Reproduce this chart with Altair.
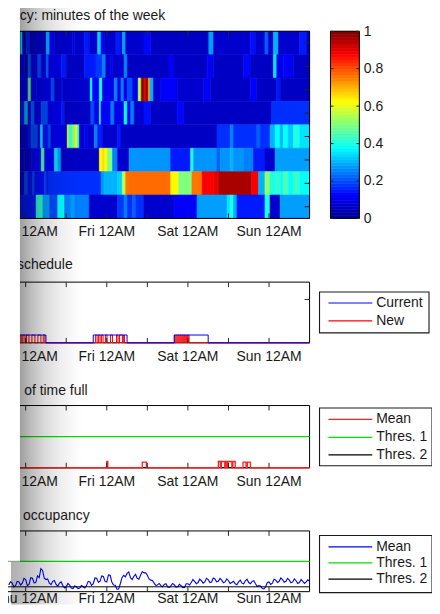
import altair as alt
import pandas as pd

FONT = "Liberation Sans"
TXT = "#1a1a1a"
TICK = "#262626"

# ---------------- data ----------------
x_domain = [-12, 84]                      # hours from Thu 12AM
day_hours = [0, 24, 48, 72]
day_labels = ["Thu 12AM", "Fri 12AM", "Sat 12AM", "Sun 12AM"]
tick_hours = [0, 12, 24, 36, 48, 60, 72]

panel_titles = ["cy: minutes of the week", "schedule", "of time full", "occupancy"]

# heatmap rows (top to bottom): runs of (start hour, value), each run lasts until the next
heat_end = 84
heat_row1 = [(-12, 0.07), (-1.5, 0.38), (-0.9, 0.08), (0.2, 0.16), (1.2, 0.07), (6.1, 0.3), (7.1, 0.12),
             (8.5, 0.07), (13.9, 0.1), (14.4, 0.07), (17.4, 0.15), (18.8, 0.07), (21.3, 0.33), (22.3, 0.12),
             (23.2, 0.07), (26.7, 0.15), (28.2, 0.07), (28.6, 0.28), (29.6, 0.07), (35.0, 0.13), (37.0, 0.06),
             (54.2, 0.28), (55.6, 0.07), (66.4, 0.14), (67.9, 0.07), (70.8, 0.22), (71.8, 0.07), (73.3, 0.3),
             (74.8, 0.07), (81.1, 0.15), (83.1, 0.07)]
heat_row2 = [(-12, 0.08), (-2.3, 0.12), (-0.3, 0.06), (0.7, 0.22), (1.6, 0.1), (3.6, 0.2), (4.6, 0.1),
             (6.1, 0.22), (6.8, 0.1), (10.5, 0.15), (12.0, 0.06), (17.4, 0.15), (20.8, 0.18), (22.7, 0.25),
             (23.7, 0.07), (25.2, 0.12), (25.7, 0.07), (29.1, 0.25), (30.1, 0.06), (42.4, 0.12), (43.9, 0.06),
             (53.7, 0.12), (55.6, 0.06), (64.5, 0.13), (66.4, 0.06), (73.3, 0.35), (74.3, 0.1), (76.2, 0.12),
             (79.2, 0.06)]
heat_row3 = [(-12, 0.08), (-2.3, 0.12), (0.7, 0.48), (1.6, 0.12), (3.1, 0.1), (7.5, 0.2), (8.5, 0.07),
             (10.5, 0.1), (11.0, 0.07), (19.1, 0.37), (19.8, 0.12), (21.8, 0.4), (22.7, 0.1), (26.2, 0.25),
             (27.2, 0.1), (28.2, 0.25), (29.1, 0.1), (30.1, 0.2), (31.6, 0.1), (33.3, 0.55), (34.2, 0.98),
             (35.0, 0.9), (35.5, 0.97), (36.3, 0.72), (36.8, 0.3), (37.8, 0.07), (39.9, 0.12), (44.8, 0.07),
             (52.7, 0.12), (54.6, 0.06), (66.4, 0.12), (68.4, 0.06), (74.3, 0.15), (75.3, 0.06)]
heat_row4 = [(-12, 0.08), (-2.3, 0.15), (-0.3, 0.32), (0.7, 0.12), (1.6, 0.22), (2.6, 0.1), (4.6, 0.2),
             (6.6, 0.1), (10.5, 0.15), (11.5, 0.06), (19.3, 0.2), (20.3, 0.1), (21.8, 0.4), (22.3, 0.12),
             (25.2, 0.25), (26.2, 0.1), (29.1, 0.37), (30.1, 0.12), (31.1, 0.25), (32.1, 0.07), (35.0, 0.14),
             (37.0, 0.06), (44.8, 0.13), (46.8, 0.06), (72.8, 0.17)]
heat_row5 = [(-12, 0.08), (-2.3, 0.1), (0.7, 0.14), (1.6, 0.2), (3.6, 0.12), (4.4, 0.36), (5.1, 0.14),
             (6.6, 0.2), (7.5, 0.1), (12.3, 0.62), (12.7, 0.45), (13.9, 0.5), (14.6, 0.6), (15.4, 0.4),
             (15.9, 0.07), (17.4, 0.12), (18.3, 0.07), (20.3, 0.25), (21.3, 0.15), (22.7, 0.07), (27.2, 0.15),
             (28.2, 0.06), (56.6, 0.17), (60.5, 0.25), (61.5, 0.17), (68.4, 0.22), (69.4, 0.17), (72.3, 0.3),
             (73.8, 0.38), (75.3, 0.3), (76.2, 0.38), (77.7, 0.32), (79.2, 0.4), (81.1, 0.35)]
heat_row6 = [(-12, 0.08), (-2.3, 0.1), (-0.3, 0.08), (1.6, 0.12), (4.6, 0.45), (5.6, 0.12), (8.5, 0.35),
             (9.5, 0.28), (10.5, 0.06), (21.8, 0.63), (22.7, 0.66), (23.4, 0.62), (24.2, 0.5), (25.7, 0.25),
             (27.2, 0.07), (30.6, 0.27), (42.9, 0.15), (48.8, 0.4), (49.7, 0.27), (56.6, 0.22), (57.6, 0.27),
             (60.5, 0.3), (61.5, 0.27), (64.5, 0.25), (67.4, 0.15), (70.8, 0.07), (73.8, 0.28)]
heat_row7 = [(-12, 0.1), (-0.3, 0.2), (0.7, 0.14), (2.1, 0.2), (2.6, 0.14), (5.6, 0.2), (6.1, 0.14),
             (6.6, 0.17), (22.3, 0.27), (23.2, 0.3), (27.2, 0.33), (28.6, 0.55), (29.6, 0.76), (30.6, 0.77),
             (42.9, 0.63), (45.3, 0.5), (49.2, 0.76), (52.2, 0.88), (55.6, 0.9), (57.1, 0.96), (66.9, 0.88),
             (68.9, 0.3), (70.8, 0.52), (72.3, 0.4), (73.8, 0.42), (75.3, 0.38), (76.2, 0.45), (77.7, 0.38),
             (79.2, 0.43), (81.1, 0.38)]
heat_row8 = [(-12, 0.12), (-2.3, 0.15), (3.1, 0.42), (5.1, 0.28), (7.1, 0.2), (9.5, 0.38), (11.5, 0.25),
             (13.4, 0.28), (14.4, 0.25), (18.8, 0.07), (27.2, 0.18), (29.1, 0.25), (30.1, 0.17), (31.6, 0.22),
             (32.6, 0.17), (35.0, 0.07), (43.9, 0.12), (50.7, 0.28), (59.6, 0.35), (60.5, 0.4), (61.5, 0.3),
             (62.5, 0.15), (70.8, 0.4), (72.3, 0.07), (75.3, 0.28)]
heat_rows = [heat_row1, heat_row2, heat_row3, heat_row4, heat_row5, heat_row6, heat_row7, heat_row8]

colorbar_ticks = [0, 0.2, 0.4, 0.6, 0.8, 1]
jet_domain = [0, 0.125, 0.375, 0.625, 0.875, 1]
jet_colors = ["#00008f", "#0000ff", "#00ffff", "#ffff00", "#ff0000", "#800000"]

# schedule panel: "on" periods (hours)
current_on = [(-4, 6), (20, 30), (44, 54)]
new_on = [(-4, -1.68), (-1.38, -1.09), (-0.8, -0.2), (0.24, 0.97), (1.85, 2.74), (3.62, 4.5), (5.2, 5.68),
          (20.69, 21.14), (21.58, 22.02), (22.46, 22.9), (23.64, 24.08), (25.1, 25.7), (26.88, 27.32),
          (27.76, 28.64), (29.0, 29.23),
          (43.95, 44.25), (44.55, 44.85), (45.15, 45.45), (45.75, 46.05), (46.35, 46.65), (46.95, 47.25),
          (47.55, 47.85), (48.1, 48.36)]
schedule_level = 0.18
schedule_ytick = [1]
schedule_ydomain = [0, 1.4]

# time-full panel: pulses (start, end, height)
full_pulses = [(24.0, 24.3, 0.1), (34.5, 35.7, 0.09), (57.0, 57.6, 0.1), (57.9, 58.9, 0.1),
               (59.1, 59.5, 0.1), (59.8, 61.0, 0.1), (61.3, 62.0, 0.1), (64.3, 65.2, 0.09), (65.6, 66.5, 0.09)]
full_thres = [0.5, 0.0]

# occupancy panel: readings on the hour and at the half hour
occ_hours = list(range(-5, 85))
occ_mean = [0.11, 0.14, 0.10, 0.16, 0.14,
            0.20, 0.12, 0.22, 0.15, 0.23, 0.35, 0.20, 0.14, 0.17, 0.12,
            0.14, 0.10, 0.08, 0.11, 0.05, 0.08, 0.06, 0.08, 0.10, 0.16,
            0.13, 0.22, 0.17, 0.25, 0.16, 0.27, 0.11, 0.04, 0.13, 0.27,
            0.30, 0.23, 0.25, 0.22, 0.27, 0.31, 0.27, 0.19, 0.14, 0.11,
            0.10, 0.12, 0.08, 0.10, 0.11, 0.08, 0.10, 0.07, 0.13, 0.15,
            0.17, 0.15, 0.18, 0.16, 0.20, 0.16, 0.21, 0.17, 0.19, 0.16,
            0.18, 0.15, 0.13, 0.16, 0.14, 0.18, 0.15, 0.17, 0.13, 0.10,
            0.05, 0.08, 0.16, 0.14, 0.19, 0.17, 0.20, 0.17, 0.19, 0.16,
            0.18, 0.15, 0.17, 0.16, 0.17]
occ_half_hours = [h + 0.5 for h in range(-5, 84)]
occ_mean_half = [0.165, 0.08, 0.17, 0.11, 0.22,
                 0.10, 0.23, 0.145, 0.26, 0.38, 0.22, 0.21, 0.115, 0.185, 0.09,
                 0.16, 0.06, 0.135, 0.06, 0.095, 0.05, 0.10, 0.06, 0.17, 0.105,
                 0.225, 0.155, 0.26, 0.165, 0.275, 0.16, 0.105, 0.045, 0.23, 0.245,
                 0.325, 0.20, 0.285, 0.205, 0.33, 0.31, 0.21, 0.185, 0.105, 0.135,
                 0.08, 0.13, 0.07, 0.135, 0.075, 0.12, 0.065, 0.13, 0.11, 0.20,
                 0.13, 0.205, 0.14, 0.22, 0.15, 0.225, 0.16, 0.22, 0.145, 0.21,
                 0.135, 0.17, 0.115, 0.19, 0.13, 0.205, 0.13, 0.18, 0.085, 0.095,
                 0.045, 0.15, 0.12, 0.205, 0.15, 0.225, 0.155, 0.22, 0.145, 0.21,
                 0.135, 0.20, 0.135, 0.195]
occ_thres = [0.5, 0.08]

legend_sched = ["Current", "New"]
legend_sched_colors = ["#0000ff", "#ff0000"]
legend_full = ["Mean", "Thres. 1", "Thres. 2"]
legend_full_colors = ["#ff2020", "#00e000", "#000000"]
legend_occ_colors = ["#0000ff", "#00e000", "#000000"]

# ---------------- layout (pixels of the page) ----------------
W = 326                # plot width
OX, OY = -18, 6        # page position of the view's top-left corner
PAGE_BOTTOM = 606      # the picture must not grow taller than the window


def vx(px):
    return px - OX


def vy(py):
    return py - OY


VIEW_H = vy(PAGE_BOTTOM)

# panel boxes: (top, bottom) in page pixels, x labels baseline, title baseline, title right end
P1 = dict(top=30, bottom=218, lab=235.5, tb=18.5, tr=163)
P2 = dict(top=282, bottom=343, lab=361.5, tb=269, tr=70)
P3 = dict(top=406, bottom=468.5, lab=487, tb=395.5, tr=85)
P4 = dict(top=532, bottom=593, lab=604.5, tb=521, tr=87)
LEG_X0 = 318

one = pd.DataFrame({"a": [0]})
xscale = alt.Scale(domain=x_domain, nice=False, zero=False)


def X(field):
    return alt.X(field=field, type="quantitative", scale=xscale, axis=None)


def Yp(field, scale, axis=None):
    return alt.Y(field=field, type="quantitative", scale=scale, axis=axis)


def frame(x0, x1, y0, y1, color="#000000", sw=1):
    return alt.Chart(one).mark_rect(filled=False, stroke=color, strokeWidth=sw).encode(
        x=alt.value(x0), x2=alt.value(x1), y=alt.value(y0), y2=alt.value(y1))


def chrome(P, title):
    t, b = vy(P["top"]), vy(P["bottom"])
    tdf = pd.DataFrame({"t": tick_hours})
    ldf = pd.DataFrame({"h": day_hours, "lab": day_labels})
    return [
        alt.Chart(tdf).mark_rule(color=TICK, strokeWidth=1).encode(x=X("t"), y=alt.value(t), y2=alt.value(t + 5)),
        alt.Chart(tdf).mark_rule(color=TICK, strokeWidth=1).encode(x=X("t"), y=alt.value(b - 5), y2=alt.value(b)),
        alt.Chart(ldf).mark_text(align="center", baseline="alphabetic", font=FONT, fontSize=14, color=TXT).encode(
            x=X("h"), y=alt.value(vy(P["lab"])), text="lab:N"),
        alt.Chart(pd.DataFrame({"t": [title]})).mark_text(
            align="right", baseline="alphabetic", font=FONT, fontSize=14, color=TXT).encode(
            x=alt.value(vx(P["tr"])), y=alt.value(vy(P["tb"])), text="t:N"),
    ]


def legend(labels, colors, bx0, bx1, by0, by1, ys):
    X0, X1, Y0, Y1 = vx(bx0), vx(bx1), vy(by0), vy(by1)
    layers = [alt.Chart(one).mark_rect(fill="white", stroke="#1a1a1a", strokeWidth=1.1).encode(
        x=alt.value(X0), x2=alt.value(X1), y=alt.value(Y0), y2=alt.value(Y1))]
    for lab, col, yy in zip(labels, colors, ys):
        layers.append(alt.Chart(one).mark_rule(color=col, strokeWidth=1.2).encode(
            x=alt.value(X0 + 9), x2=alt.value(X0 + 53), y=alt.value(vy(yy))))
        layers.append(alt.Chart(pd.DataFrame({"t": [lab]})).mark_text(
            align="left", baseline="middle", font=FONT, fontSize=14, color=TXT).encode(
            x=alt.value(X0 + 57), y=alt.value(vy(yy)), text="t:N"))
    return layers


def shade(stops):
    return alt.LinearGradient(gradient="linear", x1=0, x2=1, y1=0, y2=0,
                              stops=[alt.GradientStop(offset=o, color=f"rgba(0,0,0,{a})") for o, a in stops])


def step_df(intervals, start, end, level=None):
    xs, ys = [start], [0.0]
    for it in intervals:
        a, b = it[0], it[1]
        lv = it[2] if len(it) > 2 else level
        xs += [a, a, b, b]
        ys += [0.0, lv, lv, 0.0]
    xs.append(end)
    ys.append(0.0)
    return pd.DataFrame({"t": xs, "v": ys, "i": list(range(len(xs)))})


# ---------------- panel 1: heatmap + colorbar ----------------
heat_recs = []
for i, runs in enumerate(heat_rows):
    for j, (s, v) in enumerate(runs):
        e = runs[j + 1][0] if j + 1 < len(runs) else heat_end
        heat_recs.append({"h0": s, "h1": e, "y0": 1 - i / 8, "y1": 1 - (i + 1) / 8, "v": v})
heat_df = pd.DataFrame(heat_recs)
rowc_df = pd.DataFrame({"c": [1 - (i + 0.5) / 8 for i in range(len(heat_rows))]})
nb = 64
cb_df = pd.DataFrame({"lo": [k / nb for k in range(nb)], "hi": [(k + 1) / nb for k in range(nb)],
                      "mid": [(k + 0.5) / nb for k in range(nb)]})
cbt_df = pd.DataFrame({"c": colorbar_ticks})

jet = alt.Scale(domain=jet_domain, range=jet_colors, interpolate="rgb")
s1 = alt.Scale(domain=[0, 1], range=[vy(P1["bottom"]), vy(P1["top"])], nice=False, zero=False)
CBX0, CBX1 = vx(329), vx(358)
cb_axis = alt.Axis(orient="right", offset=CBX1 - W, values=colorbar_ticks, format="~g", ticks=False, tickSize=0,
                   domain=False, grid=False, labelPadding=4, labelFontSize=14, labelFont=FONT,
                   labelColor=TXT, title=None, labelFlush=False, labelOverlap=False, minExtent=0)

heat = alt.Chart(heat_df).mark_rect(strokeWidth=0.6).encode(
    x=X("h0"), x2=alt.X2("h1"), y=Yp("y0", s1), y2=alt.Y2("y1"),
    color=alt.Color("v:Q", scale=jet, legend=None), stroke=alt.Stroke("v:Q", scale=jet, legend=None))
cbar = alt.Chart(cb_df).mark_rect(strokeWidth=0.6).encode(
    x=alt.value(CBX0), x2=alt.value(CBX1), y=Yp("lo", s1, cb_axis), y2=alt.Y2("hi"),
    color=alt.Color("mid:Q", scale=jet, legend=None), stroke=alt.Stroke("mid:Q", scale=jet, legend=None))
row_ticks = alt.Chart(rowc_df).mark_rule(color=TICK).encode(x=alt.value(W - 5), x2=alt.value(W), y=Yp("c", s1))
cb_tick_l = alt.Chart(cbt_df).mark_rule(color=TICK).encode(x=alt.value(CBX0), x2=alt.value(CBX0 + 3), y=Yp("c", s1))
cb_tick_r = alt.Chart(cbt_df).mark_rule(color=TICK).encode(x=alt.value(CBX1 - 3), x2=alt.value(CBX1), y=Yp("c", s1))

layers1 = [heat, cbar, frame(0, W, vy(P1["top"]), vy(P1["bottom"])),
           frame(CBX0, CBX1, vy(P1["top"]), vy(P1["bottom"])),
           row_ticks, cb_tick_l, cb_tick_r, *chrome(P1, panel_titles[0])]

# ---------------- panel 2: schedule ----------------
s2 = alt.Scale(domain=schedule_ydomain, range=[vy(P2["bottom"]), vy(P2["top"])], nice=False, zero=False)
cur_df = step_df(current_on, x_domain[0], x_domain[1], schedule_level)
new_df = step_df(new_on, x_domain[0], x_domain[1], schedule_level)
layers2 = [
    frame(0, W, vy(P2["top"]), vy(P2["bottom"])),
    alt.Chart(new_df).mark_line(color="#ff0000", strokeWidth=1).encode(x=X("t"), y=Yp("v", s2), order="i:Q"),
    alt.Chart(cur_df).mark_line(color="#0000ff", strokeWidth=1).encode(x=X("t"), y=Yp("v", s2), order="i:Q"),
    alt.Chart(pd.DataFrame({"v": schedule_ytick})).mark_rule(color=TICK).encode(
        x=alt.value(W - 5), x2=alt.value(W), y=Yp("v", s2)),
    *chrome(P2, panel_titles[1]),
    *legend(legend_sched, legend_sched_colors, LEG_X0, 428, 292, 333, [303, 321]),
]

# ---------------- panel 3: percentage of time full ----------------
s3 = alt.Scale(domain=[0, 1], range=[vy(P3["bottom"]), vy(P3["top"])], nice=False, zero=False)
full_df = step_df(full_pulses, x_domain[0], x_domain[1])
layers3 = [
    frame(0, W, vy(P3["top"]), vy(P3["bottom"])),
    alt.Chart(pd.DataFrame({"v": [full_thres[1]]})).mark_rule(color="#000000").encode(
        x=alt.value(0), x2=alt.value(W), y=Yp("v", s3)),
    alt.Chart(pd.DataFrame({"v": [full_thres[0]]})).mark_rule(color="#00e000", strokeWidth=1.2).encode(
        x=alt.value(0), x2=alt.value(W), y=Yp("v", s3)),
    alt.Chart(full_df).mark_line(color="#ff2020", strokeWidth=1.3).encode(x=X("t"), y=Yp("v", s3), order="i:Q"),
    *chrome(P3, panel_titles[2]),
    *legend(legend_full, legend_full_colors, LEG_X0, 431, 408.5, 466.5, [420, 438, 455.5]),
]

# ---------------- panel 4: mean occupancy ----------------
s4 = alt.Scale(domain=[0, 1], range=[vy(P4["bottom"]), vy(P4["top"])], nice=False, zero=False)
occ_df = pd.DataFrame({"t": occ_hours + occ_half_hours, "v": occ_mean + occ_mean_half}).sort_values("t")
layers4 = [
    frame(0, W, vy(P4["top"]), vy(P4["bottom"])),
    alt.Chart(occ_df).mark_line(color="#0000ff", strokeWidth=1.1).encode(x=X("t"), y=Yp("v", s4)),
    alt.Chart(pd.DataFrame({"v": [occ_thres[0]]})).mark_rule(color="#00e000", strokeWidth=1.2).encode(
        x=alt.value(0), x2=alt.value(W), y=Yp("v", s4)),
    alt.Chart(pd.DataFrame({"v": [occ_thres[1]]})).mark_rule(color="#000000").encode(
        x=alt.value(0), x2=alt.value(W), y=Yp("v", s4)),
    *chrome(P4, panel_titles[3]),
    *legend(legend_full, legend_occ_colors, LEG_X0, 431, 536.5, 594, [548, 564, 580.5]),
]

# ---------------- screenshot shadow on the left ----------------
upper_stops = [(0, 0.38), (0.19, 0.25), (0.41, 0.14), (0.63, 0.07), (0.85, 0.025), (1, 0)]
lower_stops = [(0, 0.31), (0.15, 0.27), (0.43, 0.15), (0.7, 0.06), (1, 0)]
SPLIT = vy(562.5)
shadow = [
    alt.Chart(one).mark_rect(fill="white", strokeWidth=0).encode(
        x=alt.value(0), x2=alt.value(vx(17)), y=alt.value(0), y2=alt.value(SPLIT)),
    alt.Chart(one).mark_rect(fill=shade(upper_stops), strokeWidth=0).encode(
        x=alt.value(vx(17)), x2=alt.value(vx(80)), y=alt.value(0), y2=alt.value(SPLIT)),
    alt.Chart(one).mark_rect(fill=shade(lower_stops), strokeWidth=0).encode(
        x=alt.value(vx(8)), x2=alt.value(vx(82)), y=alt.value(SPLIT), y2=alt.value(VIEW_H)),
    alt.Chart(one).mark_rule(color="#a0a0a0", strokeWidth=1).encode(
        x=alt.value(0), x2=alt.value(vx(17)), y=alt.value(SPLIT)),
]

chart = alt.layer(*layers1, *layers2, *layers3, *layers4, *shadow).resolve_scale(
    y="independent"
).properties(
    width=W, height=VIEW_H,
    padding=alt.ExprRef(expr="{left: -26, top: -2, right: -1, bottom: -2}"),
    background="white",
).configure_view(stroke="transparent")

chart.save("out.html", embed_options={"renderer": "svg", "actions": False})
